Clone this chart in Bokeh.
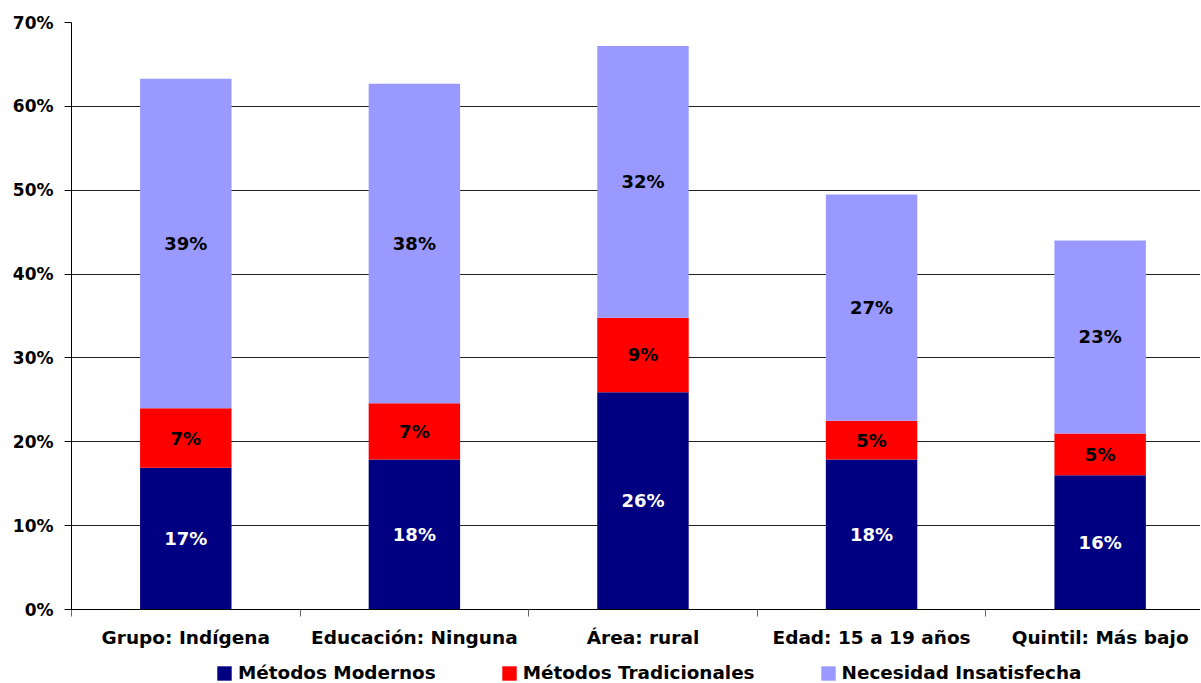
from bokeh.plotting import figure
from bokeh.layouts import column
from bokeh.models import ColumnDataSource, FixedTicker, Legend, LegendItem
from bokeh.core.properties import value
from bokeh.embed import file_html
from bokeh.resources import INLINE
import numpy as np

categories = ["Grupo: Indígena", "Educación: Ninguna", "Área: rural",
              "Edad: 15 a 19 años", "Quintil: Más bajo"]
modernos = [16.9, 17.9, 25.9, 17.9, 16.0]
tradicionales = [7.1, 6.7, 8.9, 4.6, 5.0]
insatisfecha = [39.3, 38.1, 32.4, 27.0, 23.0]
series_names = ["Métodos Modernos", "Métodos Tradicionales", "Necesidad Insatisfecha"]
colors = ["#000080", "#FF0000", "#9999FF"]
label_colors = ["#FFFFFF", "#000000", "#000000"]
y_ticks = [0, 10, 20, 30, 40, 50, 60, 70]

FONT = "DejaVu Sans"
W = 1200

xs = list(range(len(categories)))
source = ColumnDataSource(dict(x=xs, m=modernos, t=tradicionales, n=insatisfecha))

p = figure(width=W, height=651, x_range=(-0.5, 4.439), y_range=(0, 70),
           output_backend="svg", toolbar_location=None,
           min_border_left=71, min_border_right=0, min_border_top=22,
           min_border_bottom=42)
p.outline_line_color = None
p.background_fill_color = "white"

rs = p.vbar_stack(["m", "t", "n"], x="x", width=0.40, color=colors,
                  line_color=None, source=source)

# data labels
vals = np.array([modernos, tradicionales, insatisfecha])
tops = np.cumsum(vals, axis=0)
bottoms = tops - vals
for i in range(3):
    mids = (tops[i] + bottoms[i]) / 2
    labels = [f"{round(v):d}%" for v in vals[i]]
    lsrc = ColumnDataSource(dict(x=xs, y=list(mids), text=labels))
    p.text(x="x", y="y", text="text", source=lsrc, text_align="center",
           text_baseline="middle", text_color=label_colors[i],
           text_font=value(FONT), text_font_style="bold",
           text_font_size="18px")

# y axis
yax = p.yaxis[0]
yax.ticker = FixedTicker(ticks=y_ticks)
yax.major_label_overrides = {v: f"{v}%" for v in y_ticks}
yax.major_tick_out = 7
yax.major_tick_in = 0
yax.minor_tick_line_color = None
yax.axis_line_color = "black"
yax.major_tick_line_color = "black"
yax.major_label_text_font = FONT
yax.major_label_text_font_style = "bold"
yax.major_label_text_font_size = "17px"
yax.major_label_text_color = "black"
yax.major_label_standoff = 11

# x axis
xax = p.xaxis[0]
xax.ticker = FixedTicker(ticks=xs, minor_ticks=[i - 0.5 for i in range(len(categories) + 1)])
xax.major_label_overrides = {i: c for i, c in zip(xs, categories)}
xax.major_tick_line_color = None
xax.major_tick_out = 0
xax.major_tick_in = 0
xax.minor_tick_out = 7
xax.minor_tick_in = 0
xax.minor_tick_line_color = "#666666"
xax.axis_line_color = "black"
xax.major_label_text_font = FONT
xax.major_label_text_font_style = "bold"
xax.major_label_text_font_size = "18.5px"
xax.major_label_text_color = "black"
xax.major_label_standoff = 10

p.xgrid.grid_line_color = None
p.ygrid.ticker = FixedTicker(ticks=y_ticks)
p.ygrid.grid_line_color = "#222222"
p.ygrid.grid_line_width = 1

# legend strip (separate small figure below the chart)
lf = figure(width=W, height=32, x_range=(0, 1), y_range=(0, 1),
            output_backend="svg", toolbar_location=None, min_border=0,
            x_axis_type=None, y_axis_type=None)
lf.outline_line_color = None
swatches = lf.vbar_stack(["m", "t", "n"], x="x", width=0.40, color=colors,
                         line_color=None, source=source, visible=False)
legend = Legend(items=[LegendItem(label=n, renderers=[r]) for n, r in zip(series_names, swatches)],
                orientation="horizontal", location=(144, 0),
                glyph_width=18, glyph_height=18, label_standoff=5, spacing=64,
                label_text_font=FONT, label_text_font_style="bold",
                label_text_font_size="18.4px", label_text_color="black",
                border_line_color=None, background_fill_alpha=0,
                inactive_fill_alpha=0,
                padding=0, margin=0, label_height=18)
lf.add_layout(legend, "center")

open("out.html", "w").write(file_html(column(p, lf, spacing=0), INLINE))
